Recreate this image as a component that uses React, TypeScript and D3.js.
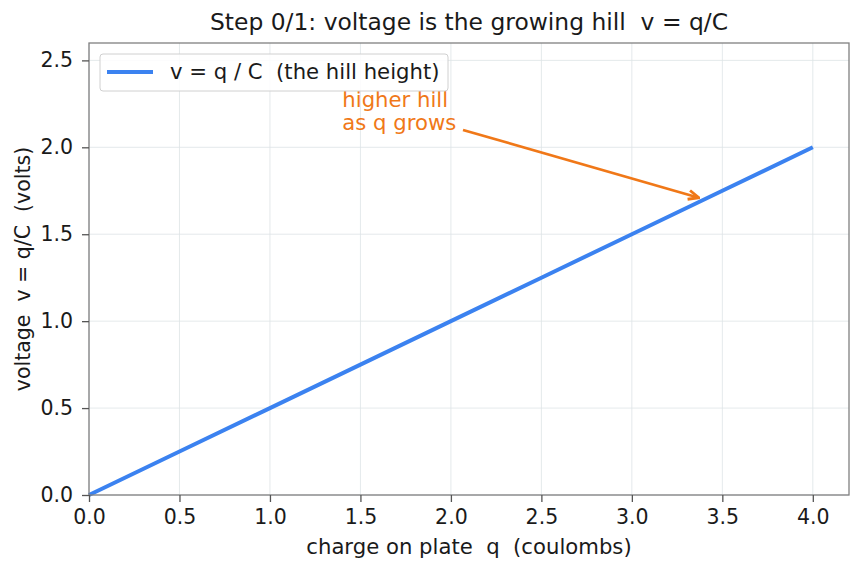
import React, { useEffect, useRef } from "react";
import * as d3 from "d3";

const charge = [0, 0.5, 1, 1.5, 2, 2.5, 3, 3.5, 4];
const capacitance = 2;
const voltage = charge.map((q) => q / capacitance);
const xTicks = [0, 0.5, 1, 1.5, 2, 2.5, 3, 3.5, 4];
const yTicks = [0, 0.5, 1, 1.5, 2, 2.5];
const noteLines = ["higher hill", "as q grows"];

const W = 862;
const H = 571;
const FONT = "DejaVu Sans, sans-serif";
const BLUE = "#3b82f0";
const ORANGE = "#f07818";
const FS = 20.5;
const LS = 21.2;

export default function App() {
  const ref = useRef<SVGSVGElement>(null);

  useEffect(() => {
    const svg = d3.select(ref.current);
    svg.selectAll("*").remove();

    const m = { left: 89, right: 849, top: 43, bottom: 495 };
    const x = d3.scaleLinear().domain([0, 4.2]).range([m.left, m.right]);
    const y = d3.scaleLinear().domain([0, 2.6]).range([m.bottom, m.top]);

    svg.append("rect").attr("width", W).attr("height", H).attr("fill", "#fff");

    // grid
    const grid = svg.append("g").attr("stroke", "#dde3e6").attr("stroke-width", 0.8);
    xTicks.forEach((t) => {
      grid.append("line").attr("x1", x(t)).attr("x2", x(t)).attr("y1", m.top).attr("y2", m.bottom);
    });
    yTicks.forEach((t) => {
      grid.append("line").attr("x1", m.left).attr("x2", m.right).attr("y1", y(t)).attr("y2", y(t));
    });

    // line
    const line = d3.line<number>().x((d, i) => x(charge[i])).y((d) => y(d));
    svg.append("path")
      .datum(voltage)
      .attr("d", line)
      .attr("fill", "none")
      .attr("stroke", BLUE)
      .attr("stroke-width", 4);

    // frame
    svg.append("rect")
      .attr("x", m.left).attr("y", m.top)
      .attr("width", m.right - m.left).attr("height", m.bottom - m.top)
      .attr("fill", "none").attr("stroke", "#808080").attr("stroke-width", 1.3);

    // axes
    const xAxis = svg.append("g")
      .attr("transform", `translate(0,${m.bottom})`)
      .call(d3.axisBottom(x).tickValues(xTicks).tickFormat(d3.format(".1f")).tickSize(7).tickPadding(7));
    const yAxis = svg.append("g")
      .attr("transform", `translate(${m.left},0)`)
      .call(d3.axisLeft(y).tickValues(yTicks).tickFormat(d3.format(".1f")).tickSize(7).tickPadding(9));
    [xAxis, yAxis].forEach((a) => {
      a.select(".domain").remove();
      a.selectAll("line").attr("stroke", "#555").attr("stroke-width", 1.3);
      a.selectAll("text").attr("font-family", FONT).attr("font-size", FS).attr("fill", "#1a1a1a");
    });

    // labels
    const txt = (s: d3.Selection<SVGTextElement, unknown, null, undefined>) =>
      s.attr("font-family", FONT).attr("fill", "#1a1a1a").style("white-space", "pre");
    svg.append("text")
      .attr("x", (m.left + m.right) / 2).attr("y", 30)
      .attr("text-anchor", "middle").attr("font-size", 23.4)
      .call(txt)
      .text("Step 0/1: voltage is the growing hill  v = q/C");
    svg.append("text")
      .attr("x", (m.left + m.right) / 2).attr("y", 554)
      .attr("text-anchor", "middle").attr("font-size", LS)
      .call(txt)
      .text("charge on plate  q  (coulombs)");
    svg.append("text")
      .attr("transform", `translate(30,${(m.top + m.bottom) / 2}) rotate(-90)`)
      .attr("text-anchor", "middle").attr("font-size", FS)
      .call(txt)
      .text("voltage  v = q/C  (volts)");

    // annotation
    const defs = svg.append("defs");
    defs.append("marker")
      .attr("id", "arr").attr("viewBox", "0 0 10 10").attr("refX", 9).attr("refY", 5)
      .attr("markerWidth", 13).attr("markerHeight", 13).attr("orient", "auto")
      .attr("markerUnits", "userSpaceOnUse")
      .append("path").attr("d", "M1,1.5 L9,5 L1,8.5").attr("fill", "none").attr("stroke", ORANGE).attr("stroke-width", 2.2);

    const nx = x(1.4);
    svg.append("text")
      .attr("font-family", FONT).attr("font-size", LS).attr("fill", ORANGE)
      .selectAll("tspan").data(noteLines).join("tspan")
      .attr("x", nx).attr("y", (d, i) => y(2.1) - 23 + i * 23)
      .text((d) => d);
    svg.append("line")
      .attr("x1", 463).attr("y1", y(2.1))
      .attr("x2", x(3.37)).attr("y2", y(1.71))
      .attr("stroke", ORANGE).attr("stroke-width", 2.6)
      .attr("marker-end", "url(#arr)");

    // legend
    const lg = svg.append("g");
    lg.append("rect")
      .attr("x", 100).attr("y", 54).attr("width", 348).attr("height", 37).attr("rx", 3)
      .attr("fill", "#fff").attr("fill-opacity", 0.85).attr("stroke", "#d0d0d0");
    lg.append("line").attr("x1", 107).attr("x2", 153).attr("y1", 72).attr("y2", 72)
      .attr("stroke", BLUE).attr("stroke-width", 4);
    lg.append("text").attr("x", 170).attr("y", 79).attr("font-size", LS)
      .call(txt)
      .text("v = q / C  (the hill height)");
  }, []);

  return (
    <div style={{ position: "absolute", left: 0, top: 0 }}>
      <svg ref={ref} width={W} height={H} style={{ display: "block" }} />
    </div>
  );
}
